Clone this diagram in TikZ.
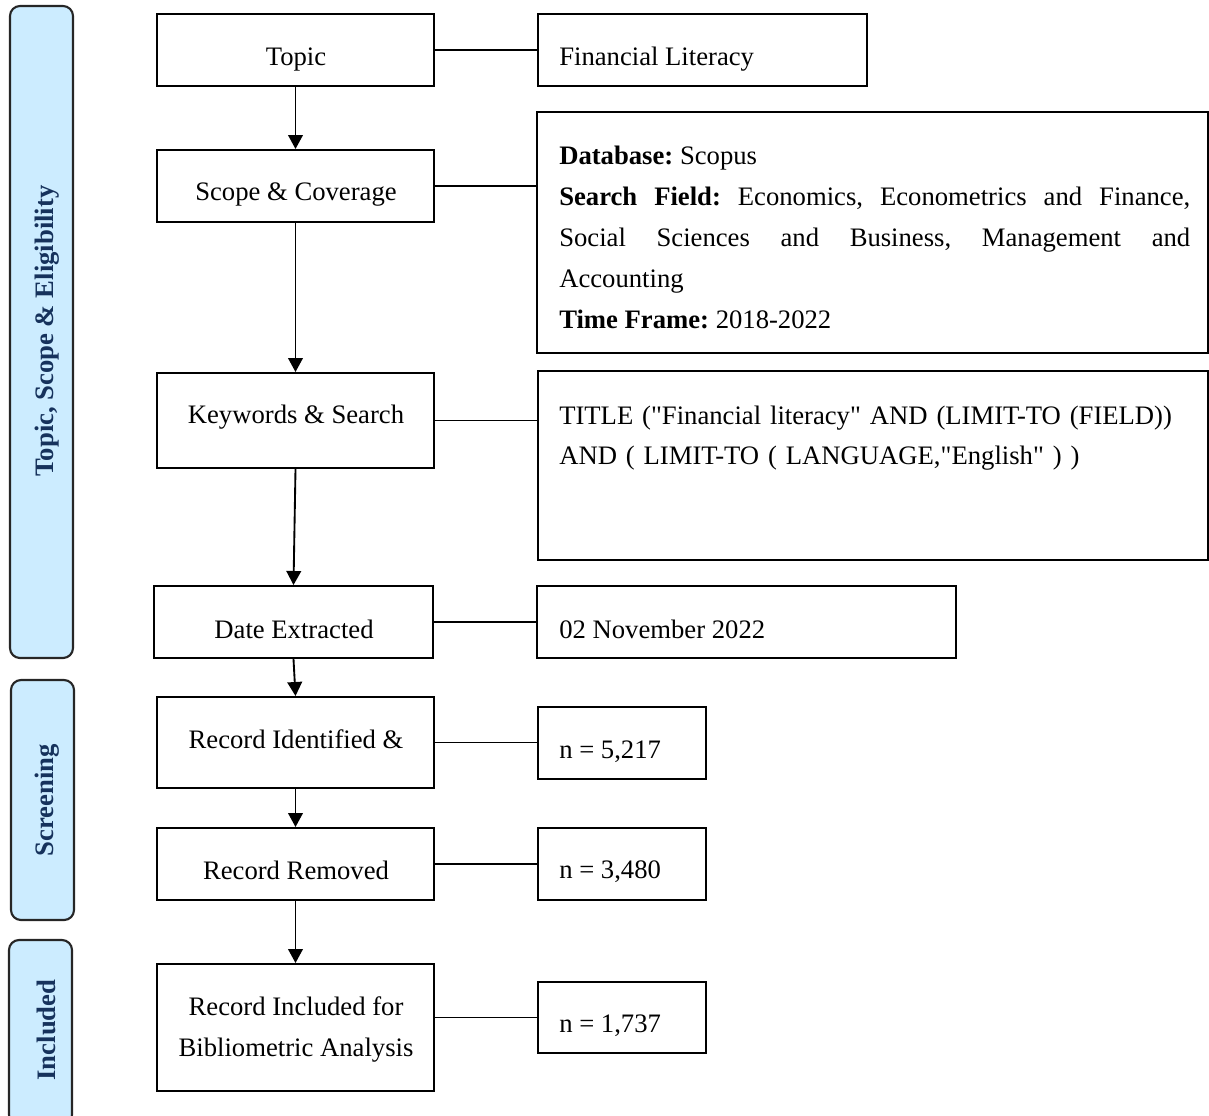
\documentclass[tikz,border=0pt]{standalone}
\usepackage{fontspec}
\setmainfont{Liberation Serif}[Ligatures=TeXOff]
\usetikzlibrary{arrows.meta,calc}
\definecolor{barfill}{RGB}{204,236,255}
\definecolor{bartext}{RGB}{22,50,92}
\newcommand\rbox[6]{\node[#1, minimum width={(#5-#3)*0.75pt}, minimum height={(#6-#4)*0.75pt}] (#2) at ({(#3+#5)/2},{(#4+#6)/2}) {};}
\frenchspacing
\begin{document}
\begin{tikzpicture}[x=0.75pt,y=-0.75pt,
 box/.style={draw=black, line width=1.5pt, inner sep=0pt, rectangle},
 bar/.style={draw=black!85, line width=1.6pt, fill=barfill, rounded corners=7.5pt, inner sep=0pt, rectangle},
 lbl/.style={font=\fontsize{20}{24}\selectfont, inner sep=0pt, anchor=base},
 rlbl/.style={font=\fontsize{20}{24}\selectfont, inner sep=0pt, anchor=base west},
 bartxt/.style={font=\fontsize{20}{24}\selectfont\bfseries, text=bartext, rotate=90, inner sep=0pt},
 link/.style={line width=1.4pt},
 arr/.style={line width=1.4pt, -{Triangle[width=11pt,length=10.5pt]}}]
\useasboundingbox (0,0) rectangle (1209,1115);

% side bars
\rbox{bar}{bar1}{10}{6}{73}{658}
\rbox{bar}{bar2}{11}{680}{74}{920}
\rbox{bar}{bar3}{9}{940}{72}{1125}
\node[bartxt] (bt1) at (47,331) {Topic, Scope \& Eligibility};
\node[bartxt] (bt2) at (47,800) {Screening};
\node[bartxt] (bt3) at (46,1030) {Included};

% left column
\rbox{box}{topic}{157}{14}{434}{86}
\rbox{box}{scope}{157}{150}{434}{222}
\rbox{box}{kw}{157}{373}{434}{468}
\rbox{box}{date}{154}{586}{433}{658}
\rbox{box}{recid}{157}{697}{434}{788}
\rbox{box}{recrem}{157}{828}{434}{900}
\rbox{box}{incl}{157}{964}{434}{1091}

\node[lbl] (topict) at (296,65) {Topic};
\node[lbl] (scopet) at (296,200) {Scope \& Coverage};
\node[lbl] (kwt) at (296,423) {Keywords \& Search};
\node[lbl] (datet) at (294,638) {Date Extracted};
\node[lbl] (recidt) at (296,748) {Record Identified \&};
\node[lbl] (recremt) at (296,879) {Record Removed};
\node[lbl] (inclt1) at (296,1015) {Record Included for};
\node[lbl] (inclt2) at (296,1056) {Bibliometric Analysis};

% right column
\rbox{box}{fin}{538}{14}{867}{86}
\rbox{box}{db}{537}{112}{1208}{353}
\rbox{box}{srch}{538}{371}{1208}{560}
\rbox{box}{nov}{537}{586}{956}{658}
\rbox{box}{n1}{538}{707}{706}{779}
\rbox{box}{n2}{538}{828}{706}{900}
\rbox{box}{n3}{538}{982}{706}{1053}

\node[rlbl] (fint) at (559,65) {Financial Literacy};
\node[anchor=base west, inner sep=0pt, text width=473.25pt, align=justify,
      font=\fontsize{20}{30.75}\selectfont] (dbt) at (559,164)
 {\textbf{Database:} Scopus\\
  \textbf{Search Field:} Economics, Econometrics and Finance,\linebreak
  Social Sciences and Business, Management and\linebreak
  Accounting\\
  \textbf{Time Frame:} 2018-2022};
\node[anchor=base west, inner sep=0pt, text width=490pt, align=left,
      font=\fontsize{20}{30}\selectfont] (srcht) at (559,424)
 {TITLE ("Financial literacy" AND (LIMIT-TO (FIELD))\\
  AND ( LIMIT-TO ( LANGUAGE,"English" ) )};
\node[rlbl] (novt) at (559,638) {02 November 2022};
\node[rlbl] (n1t) at (559,758) {n = 5,217};
\node[rlbl] (n2t) at (559,878) {n = 3,480};
\node[rlbl] (n3t) at (559,1032) {n = 1,737};

% links
\draw[link] (topic.east) -- (topic.east -| fin.west);
\draw[link] (scope.east) -- (scope.east -| db.west);
\draw[link] (kw.east) -- (kw.east -| srch.west);
\draw[link] (date.east) -- (date.east -| nov.west);
\draw[link] (recid.east) -- (recid.east -| n1.west);
\draw[link] (recrem.east) -- (recrem.east -| n2.west);
\draw[link] (incl.east |- n3.west) -- (n3.west);

% arrows
\draw[arr] (topic.south) -- (scope.north);
\draw[arr] (scope.south) -- (kw.north);
\draw[arr] (kw.south) -- (date.north);
\draw[arr] (date.south) -- (recid.north);
\draw[arr] (recid.south) -- (recrem.north);
\draw[arr] (recrem.south) -- (incl.north);
\end{tikzpicture}
\end{document}
